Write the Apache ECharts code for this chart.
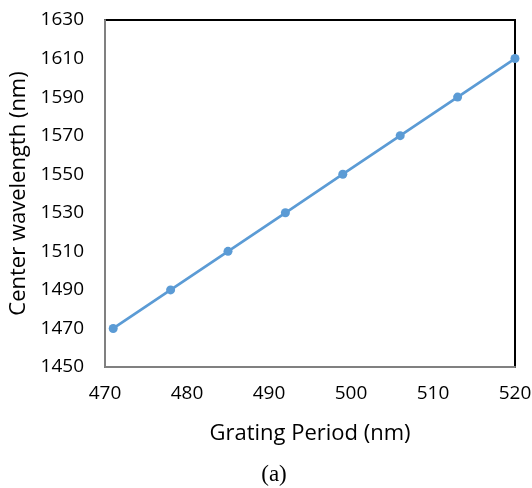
<!DOCTYPE html>
<html>
<head>
<meta charset="utf-8">
<script src="https://cdn.jsdelivr.net/npm/echarts@6/dist/echarts.min.js"></script>
<style>
  html, body { margin: 0; padding: 0; background: #fff; }
  #chart { width: 532px; height: 488px; }
</style>
</head>
<body>
<div id="chart"></div>
<script>
// Grating period (nm) vs. center wavelength (nm)
const gratingPeriod = [471, 478, 485, 492, 499, 506, 513, 520];
const centerWavelength = [1470, 1490, 1510, 1530, 1550, 1570, 1590, 1610];

const xTicks = { min: 470, max: 520, interval: 10 };
const yTicks = { min: 1450, max: 1630, interval: 20 };

const FONT = '"Open Sans", "Liberation Sans", sans-serif';

const chart = echarts.init(document.getElementById('chart'), null, { renderer: 'canvas' });

chart.setOption({
  animation: false,
  backgroundColor: '#ffffff',
  grid: {
    left: 105, top: 20, right: 17, bottom: 121,
    outerBoundsMode: 'none', containLabel: false,
    show: true, borderColor: '#000', borderWidth: 2
  },
  title: {
    text: '(a)',
    left: 269, top: 458, textAlign: 'center',
    textStyle: { fontFamily: '"Liberation Serif", "DejaVu Serif", serif', fontSize: 23, fontWeight: 'normal', color: '#000' }
  },
  xAxis: {
    type: 'value',
    min: xTicks.min, max: xTicks.max, interval: xTicks.interval,
    name: 'Grating Period (nm)',
    nameLocation: 'middle', nameGap: 56,
    nameTextStyle: { fontFamily: FONT, fontSize: 22, color: '#000' },
    axisLine: { show: true, onZero: false, lineStyle: { color: '#808080', width: 2 } },
    axisTick: { show: false },
    splitLine: { show: false },
    axisLabel: { fontFamily: FONT, fontSize: 19, color: '#000', margin: 17, formatter: v => String(v) }
  },
  yAxis: {
    type: 'value',
    min: yTicks.min, max: yTicks.max, interval: yTicks.interval,
    name: 'Center wavelength (nm)',
    nameLocation: 'middle', nameGap: 71, nameRotate: 90,
    nameTextStyle: { fontFamily: FONT, fontSize: 22, color: '#000' },
    axisLine: { show: true, onZero: false, lineStyle: { color: '#808080', width: 2 } },
    axisTick: { show: false },
    splitLine: { show: false },
    axisLabel: { fontFamily: FONT, fontSize: 19, color: '#000', margin: 21, formatter: v => String(v) }
  },
  series: [{
    type: 'line',
    data: gratingPeriod.map((p, i) => [p, centerWavelength[i]]),
    lineStyle: { color: '#5B9BD5', width: 2.7 },
    itemStyle: { color: '#5B9BD5' },
    symbol: 'circle',
    symbolSize: 9,
    clip: false
  }]
});
</script>
</body>
</html>
